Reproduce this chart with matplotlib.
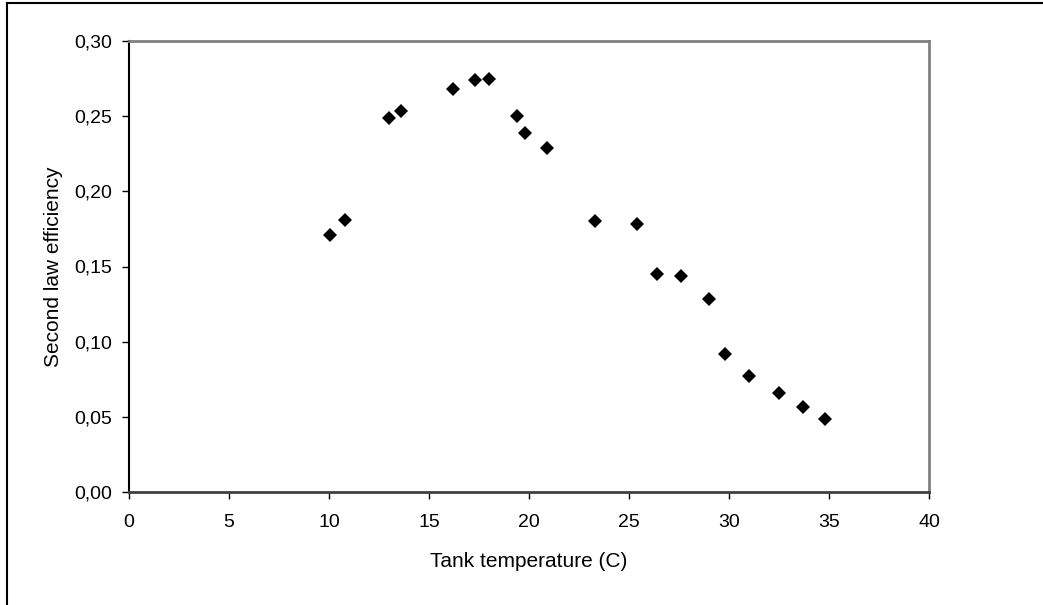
import matplotlib
matplotlib.use("Agg")
import matplotlib.pyplot as plt
from matplotlib.lines import Line2D

# Tank temperature (C) and second law efficiency
tank_temp = [10.05, 10.78, 12.98, 13.58, 16.18, 17.28, 17.98, 19.38, 19.80,
             20.88, 23.28, 25.40, 26.38, 27.60, 29.00, 29.80, 30.98, 32.50,
             33.70, 34.80]
efficiency = [0.171, 0.181, 0.249, 0.2535, 0.268, 0.274, 0.2745, 0.250, 0.2386,
              0.2285, 0.180, 0.1785, 0.1448, 0.1437, 0.1286, 0.0918, 0.0772,
              0.0657, 0.0568, 0.0488]

x_ticks = [0, 5, 10, 15, 20, 25, 30, 35, 40]
y_ticks = [0.00, 0.05, 0.10, 0.15, 0.20, 0.25, 0.30]
y_tick_labels = ["0,00", "0,05", "0,10", "0,15", "0,20", "0,25", "0,30"]

plt.rcParams["font.family"] = ["Liberation Sans", "DejaVu Sans"]

fig = plt.figure(figsize=(10.43, 6.05), dpi=100)
ax = fig.add_axes([129 / 1043, 1 - 492 / 605, 800 / 1043, 451 / 605])

ax.plot(tank_temp, efficiency, linestyle="none", marker="D", markersize=7,
        markerfacecolor="black", markeredgewidth=0, color="black", clip_on=False)

ax.set_xlim(0, 40)
ax.set_ylim(0, 0.30)
ax.set_xticks(x_ticks)
ax.set_yticks(y_ticks)
ax.set_yticklabels(y_tick_labels)

ax.tick_params(axis="both", direction="out", length=5, width=1, colors="black",
               labelsize=14)
ax.tick_params(axis="x", pad=11)
ax.tick_params(axis="y", pad=7)

for side in ("top", "right"):
    ax.spines[side].set_color("#808080")
    ax.spines[side].set_linewidth(2)
ax.spines["left"].set_color("black")
ax.spines["left"].set_linewidth(1.5)
ax.spines["bottom"].set_color("#404040")
ax.spines["bottom"].set_linewidth(2)

ax.set_xlabel("Tank temperature (C)", fontsize=15, labelpad=15)
ax.set_ylabel("Second law efficiency", fontsize=15, labelpad=8)

# Outer chart-area frame (left and top edges)
fig.add_artist(Line2D([7 / 1043, 7 / 1043], [0, 1 - 3 / 605], transform=fig.transFigure,
                      color="black", linewidth=1.5))
fig.add_artist(Line2D([7 / 1043, 1], [1 - 3 / 605, 1 - 3 / 605], transform=fig.transFigure,
                      color="black", linewidth=1.5))

fig.savefig("out.png", dpi=100, facecolor="white")
